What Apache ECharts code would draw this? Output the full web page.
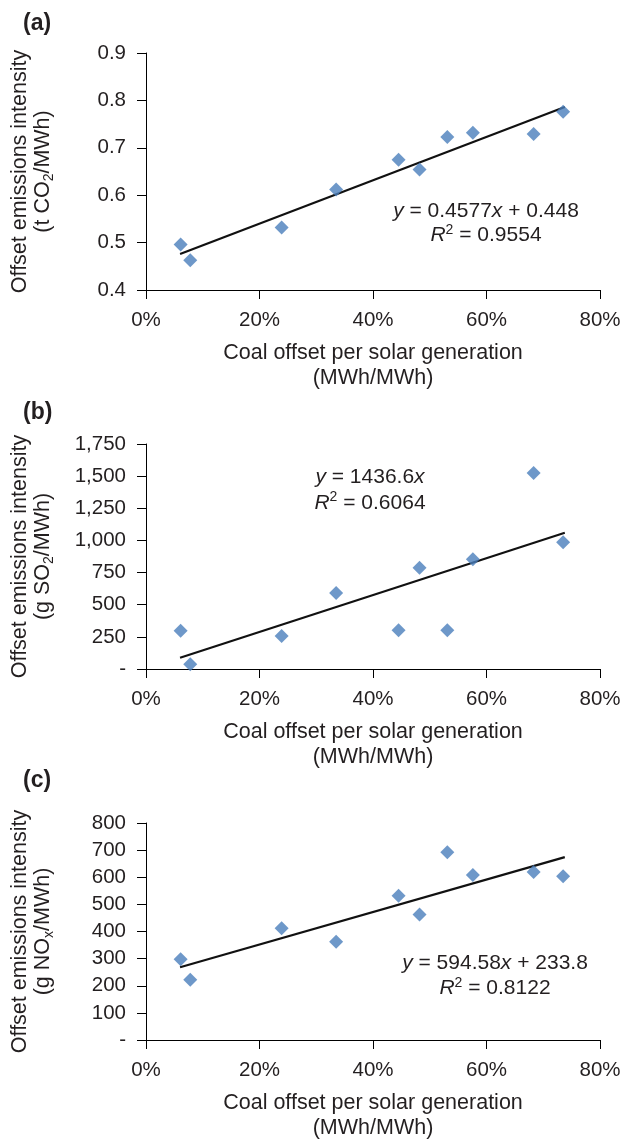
<!DOCTYPE html>
<html>
<head>
<meta charset="utf-8">
<script src="https://cdn.jsdelivr.net/npm/echarts@6/dist/echarts.min.js"></script>
<style>
  html, body { margin: 0; padding: 0; background: #fff; }
  #chart { width: 620px; height: 1140px; }
</style>
</head>
<body>
<div id="chart"></div>
<script>
// x: coal offset per solar generation (%)
const coalOffset = [6.1, 7.8, 23.9, 33.5, 44.5, 48.2, 53.1, 57.6, 68.3, 73.5]
// y values per panel
const co2Intensity = [0.496, 0.463, 0.532, 0.612, 0.675, 0.654, 0.723, 0.732, 0.729, 0.776]
const so2Intensity = [297, 36, 256, 592, 302, 788, 302, 853, 1525, 985]
const noxIntensity = [298, 222, 412, 362, 532, 463, 692, 608, 619, 604]

// trend line ends
const trendX = [6.0, 73.8]
const co2Trend = [0.476, 0.786]
const so2Trend = [88, 1060]
const noxTrend = [268, 674]

const xTicks = [0, 20, 40, 60, 80]

const FONT = 'Liberation Sans'
const TEXT = '#231f20'
const BLUE = '#4a7ebb'

const pairs = (xs, ys) => xs.map((x, i) => [x, ys[i]])

const supRich = {
    i: { fontStyle: 'italic', fontSize: 21, fontFamily: FONT, color: TEXT },
    sup: { fontSize: 14, fontFamily: FONT, color: TEXT, padding: [0, 0, 11, 0] },
    sub: { fontSize: 14, fontFamily: FONT, color: TEXT, padding: [12, 0, 0, 0] }
}

// 三个面板的网格位置
const grids = [
    { left: 146, right: 20, top: 53, height: 237 },
    { left: 146, right: 20, top: 444, height: 225 },
    { left: 146, right: 20, top: 823, height: 217 }
]

const yNames = [
    'Offset emissions intensity\n(t CO{sub|2}/MWh)',
    'Offset emissions intensity\n(g SO{sub|2}/MWh)',
    'Offset emissions intensity\n(g NO{sub|x}/MWh)'
]

const yRanges = [
    { min: 0.4, max: 0.9, interval: 0.1, fmt: (v) => v.toFixed(1) },
    { min: 0, max: 1750, interval: 250, fmt: (v) => v === 0 ? '-' : v.toLocaleString('en-US') },
    { min: 0, max: 800, interval: 100, fmt: (v) => v === 0 ? '-' : String(v) }
]

const axisCommon = {
    axisLine: { show: true, onZero: false, lineStyle: { color: '#000', width: 1 } },
    axisTick: { show: true, inside: false, length: 9, lineStyle: { color: '#000', width: 1 } },
    splitLine: { show: false }
}

const xAxes = grids.map((g, i) => ({
    ...axisCommon,
    type: 'value',
    gridIndex: i,
    min: xTicks[0],
    max: xTicks[xTicks.length - 1],
    interval: 20,
    axisLabel: { formatter: '{value}%', fontSize: 20.5, fontFamily: FONT, color: TEXT, margin: 20 },
    name: 'Coal offset per solar generation\n(MWh/MWh)',
    nameLocation: 'middle',
    nameGap: 51,
    nameTextStyle: { fontSize: 21.5, fontFamily: FONT, color: TEXT, lineHeight: 25 }
}))

const yAxes = yRanges.map((r, i) => ({
    ...axisCommon,
    type: 'value',
    gridIndex: i,
    min: r.min,
    max: r.max,
    interval: r.interval,
    axisLabel: { formatter: r.fmt, fontSize: 20.5, fontFamily: FONT, color: TEXT, margin: 20 },
    name: yNames[i],
    nameLocation: 'middle',
    nameRotate: 90,
    nameGap: 91,
    nameTextStyle: { fontSize: 21.5, fontFamily: FONT, color: TEXT, lineHeight: 23, rich: supRich }
}))

const scatterSeries = [co2Intensity, so2Intensity, noxIntensity].map((ys, i) => ({
    type: 'scatter',
    xAxisIndex: i,
    yAxisIndex: i,
    symbol: 'diamond',
    symbolSize: 14,
    itemStyle: { color: BLUE },
    data: pairs(coalOffset, ys),
    z: 3
}))

const trendSeries = [co2Trend, so2Trend, noxTrend].map((ys, i) => ({
    type: 'line',
    xAxisIndex: i,
    yAxisIndex: i,
    symbol: 'none',
    lineStyle: { color: '#111', width: 2.2 },
    data: pairs(trendX, ys),
    z: 2
}))

// 面板标签和回归方程
const eqText = (x, y, text, lh) => ({
    type: 'text',
    x: x,
    y: y,
    style: {
        text: text,
        fontSize: 21,
        fontFamily: FONT,
        fill: TEXT,
        lineHeight: lh,
        align: 'center',
        verticalAlign: 'middle',
        rich: {
            i: { ...supRich.i, lineHeight: lh },
            sup: supRich.sup
        }
    }
})

const panelLabel = (y, text) => ({
    type: 'text',
    x: 23,
    y: y,
    style: { text: text, fontSize: 23, fontWeight: 'bold', fontFamily: FONT, fill: TEXT, verticalAlign: 'middle' }
})

const chart = echarts.init(document.getElementById('chart'), null, { renderer: 'canvas' })
chart.setOption({
    animation: false,
    backgroundColor: '#fff',
    textStyle: { fontFamily: FONT },
    grid: grids.map((g) => ({ ...g, containLabel: false, outerBoundsMode: 'none' })),
    xAxis: xAxes,
    yAxis: yAxes,
    series: [...trendSeries, ...scatterSeries],
    graphic: {
        elements: [
            panelLabel(24, '(a)'),
            panelLabel(413, '(b)'),
            panelLabel(781, '(c)'),
            eqText(486, 223, '{i|y} = 0.4577{i|x} + 0.448\n{i|R}{sup|2} = 0.9554', 24.5),
            eqText(370, 490, '{i|y} = 1436.6{i|x}\n{i|R}{sup|2} = 0.6064', 26),
            eqText(495, 976, '{i|y} = 594.58{i|x} + 233.8\n{i|R}{sup|2} = 0.8122', 25)
        ]
    }
})
</script>
</body>
</html>
